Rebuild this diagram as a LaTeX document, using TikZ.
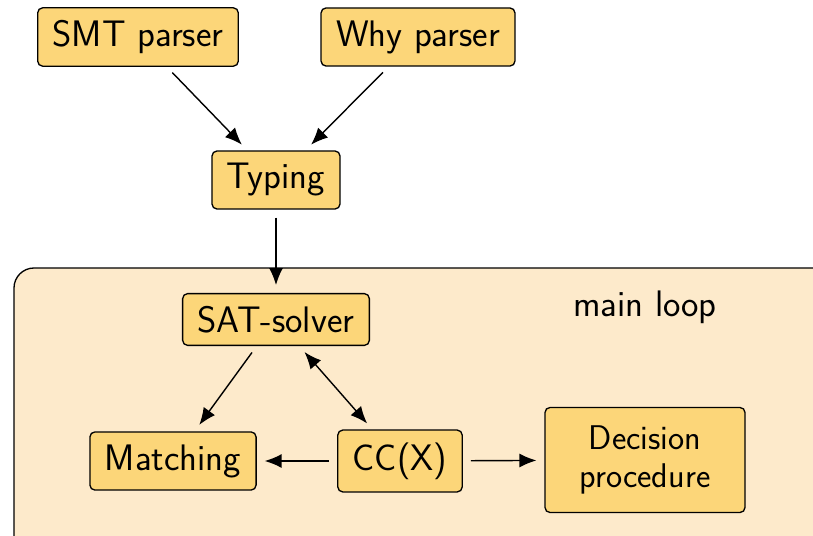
\documentclass[tikz,border=0pt]{standalone}
\usepackage{xcolor}
\usepackage{tikz}
\usetikzlibrary{arrows.meta,positioning}

\definecolor{boxfill}{RGB}{252,214,121}
\definecolor{loopfill}{RGB}{253,234,203}

\begin{document}
\begin{tikzpicture}[
        font=\sffamily\fontsize{21}{25}\selectfont,
        box/.style={draw, line width=0.75pt, fill=boxfill, rounded corners=0.1cm,
                    inner xsep=0.3cm, inner ysep=0.25cm},
        arr/.style={-{Latex[length=3.4mm,width=2.8mm]}, line width=0.8pt,
                    shorten >=4.5pt, shorten <=4.5pt}
    ]
        \useasboundingbox (0,0) rectangle (16.26,10.7);
        % main loop frame
        \begin{scope}
            \clip (0,0) rectangle (16.26,10.7);
            \draw[line width=0.75pt, fill=loopfill, rounded corners=0.4cm] (0.28,5.34) rectangle (16.8,-0.6);
        \end{scope}
        \node at (12.9,4.56) {main loop};

        \node[box] (smt) at (2.76,9.96) {SMT parser};
        \node[box] (why) at (8.36,9.96) {Why parser};
        \node[box] (typing) at (5.52,7.1) {Typing};
        \node[box] (sat) at (5.52,4.31) {SAT-solver};
        \node[box] (match) at (3.46,1.48) {Matching};
        \node[box] (ccx) at (8.0,1.48) {CC(X)};
        \node[box, text width=3.4cm, minimum height=2.1cm, align=center,
              font=\sffamily\fontsize{19.5}{21.6}\selectfont] (dec) at (12.9,1.5) {Decision\\procedure};

        \draw[arr] (smt) -- (typing);
        \draw[arr] (why) -- (typing);
        \draw[arr] (typing) -- (sat);
        \draw[arr] (sat) -- (match);
        \draw[arr, {Latex[length=3.4mm,width=2.8mm]}-{Latex[length=3.4mm,width=2.8mm]}] (sat) -- (ccx);
        \draw[arr] (ccx) -- (match);
        \draw[arr] (ccx) -- (dec);
    \end{tikzpicture}
\end{document}
